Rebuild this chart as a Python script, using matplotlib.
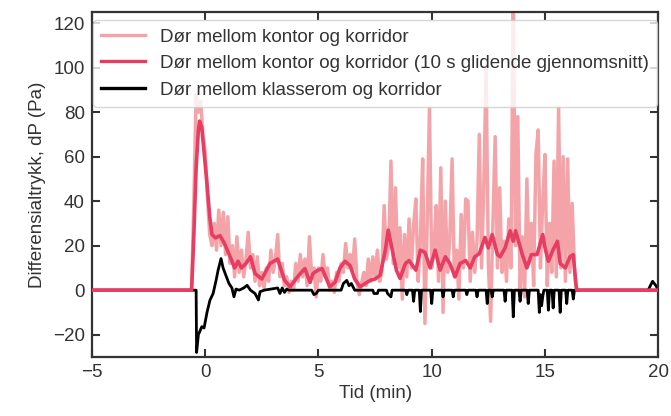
import numpy as np
import matplotlib.pyplot as plt

plt.rcParams['font.family'] = ['Liberation Sans', 'DejaVu Sans']

# raatrykk, dor kontor/korridor, en verdi per 0.1 min fra -0.6 min
raw_start = -0.6
raw = [0, 40, 88, 80, 85, 70,
       62, 42, 25, 20, 30, 18, 36, 20, 35, 16,
       33, 12, 20, 6, 24, 8, 18, 6, 14, 26,
       10, 16, 4, 15, 2, 8, 1, 10, 4, 18,
       8, 14, 25, 6, 12, 2, 6, -1, 4, 0,
       12, 4, 16, 6, 14, 2, 24, 6, 10, -3,
       10, 4, 16, 6, 10, 0, 4, -1, 8, 4,
       12, 8, 21, 10, 16, 8, 23, 4, -2, 3,
       8, 2, 14, 4, 15, 6, 18, 4, 8, 38,
       14, 20, 58, 12, 46, 10, 28, -4, 25, 6,
       32, 10, 29, 41, 4, 22, 59, -15, 30, 82,
       10, 20, 38, 4, 55, -10, 40, 8, 24, 59,
       6, 18, -4, 34, 10, 41, 40, 4, 26, 8,
       22, 70, 10, 47, 100, 12, -14, 30, 69, 10,
       46, 8, 22, 4, 32, 10, 135, 20, 78, 0,
       24, -3, 50, 12, 30, 2, 61, 72, 10, 40,
       61, 2, 30, 8, 58, 6, 82, 10, 60, 4,
       59, 8, 39, 10, 0]

# 10 s glidende gjennomsnitt
t_avg = [-5, -0.6, -0.5, -0.4, -0.3, -0.25, -0.15, -0.05, 0.07, 0.2, 0.3, 0.45,
         0.65, 0.85, 1.1, 1.3, 1.45, 1.6, 1.8, 2.0, 2.2, 2.5, 2.86, 3.2, 3.5,
         3.75, 4.0, 4.2, 4.4, 4.63, 4.76, 4.98, 5.16, 5.38, 5.5, 5.73, 5.95,
         6.17, 6.4, 6.6, 6.84, 7.06, 7.28, 7.5, 7.72, 7.95, 8.08, 8.26, 8.44,
         8.6, 8.84, 9.0, 9.3, 9.5, 9.7, 9.93, 10.15, 10.37, 10.6, 10.8, 11.03,
         11.25, 11.5, 11.7, 11.9, 12.1, 12.35, 12.5, 12.67, 12.9, 13.02, 13.24,
         13.46, 13.6, 13.7, 14.0, 14.2, 14.4, 14.65, 14.9, 15.0, 15.15, 15.35,
         15.55, 15.67, 15.9, 16.1, 16.25, 16.35, 16.4, 20]
avg = [0, 0, 25, 55, 72, 76, 73, 62, 49, 33, 25, 23.5,
       24.5, 21, 15, 10, 13, 10, 12, 15, 7.5, 5, 12, 14, 4.5,
       1.5, 5, 7.5, 9.7, 3.5, 7.5, 9, 9.7, 4.4, 1.5, 3.5, 10,
       13, 11, 5, 1.5, 3, 4.4, 5, 6.7, 17.8, 27, 18, 9,
       5.3, 12, 13.3, 9, 18, 17, 10, 18, 9, 15, 12, 6,
       12, 13.3, 10, 15, 16.4, 23.7, 19, 25, 16, 15, 19,
       26.7, 22, 26.7, 16, 10, 16, 16, 25, 19, 13, 18,
       22, 12, 10, 15, 16, 4, 0, 0]

# dor klasserom/korridor
t_kl = [-5, -0.4, -0.38, -0.3, -0.15, -0.05, 0.08, 0.21, 0.35, 0.48, 0.57, 0.7,
        0.79, 0.9, 1.05, 1.18, 1.27, 1.36, 1.5, 1.7, 1.85, 2.0, 2.2, 2.35, 2.42,
        2.6, 3.2, 3.3, 3.4, 3.5, 3.6, 3.7, 4.7, 4.8, 4.9, 5.0, 6.0, 6.1, 6.25,
        6.35, 6.45, 6.6, 7.4, 7.45, 7.6, 7.65, 8.0, 8.05, 8.2, 8.25, 8.85, 8.9,
        8.95, 9.15, 9.2, 9.25, 9.45, 9.5, 9.55, 9.95, 10.0, 10.05, 10.45, 10.5,
        10.55, 10.9, 10.95, 11.0, 11.5, 11.55, 11.6, 11.95, 12.0, 12.05, 12.4,
        12.45, 12.5, 12.62, 12.67, 12.72, 13.19, 13.24, 13.29, 13.55, 13.6,
        13.65, 13.85, 13.9, 13.95, 14.21, 14.26, 14.31, 14.7, 14.75, 14.8,
        14.85, 14.9, 14.95, 15.1, 15.15, 15.2, 15.31, 15.36, 15.41, 15.62,
        15.67, 15.72, 15.91, 15.96, 16.01, 16.2, 16.25, 16.3, 19.55, 19.75,
        19.9, 20]
klasse = [0, 0, -28, -20, -16.4, -17, -10, -4.5, -1.5, 4.4, 9, 14.2,
          10, 7, 3, 1, -3, 0.5, 0, 1, 2.2, 0, -1.5, -4.4, -0.7,
          0, 1, -1.5, 1, -1, 0.5, 0, 0, -2, -1.5, 0, 0, 3, 4.4,
          2, 3, 0, 0, -1.5, -1.5, 0, 0, -1.5, -3, 0, 0, -2,
          0, 0, -5, 0, 0, -9.6, 0, 0, -6, 0, 0, -3,
          0, 0, -3, 0, 0, -2, 0, 0, -3, 0, 0,
          -6, 0, 0, -3, 0, 0, -5, 0, 0, -12,
          0, 0, -5, 0, 0, -6, 0, 0, -10, -2,
          -7, -3, 0, 0, -9, 0, 0, -8, 0, 0,
          -10, 0, 0, -6, 0, 0, -4, 0, 0, 4,
          2, 0]

labels = ['Dør mellom kontor og korridor',
          'Dør mellom kontor og korridor (10 s glidende gjennomsnitt)',
          'Dør mellom klasserom og korridor']

t_raw = np.round(raw_start + 0.1 * np.arange(len(raw)), 2)
t_raw = np.concatenate([[-5], t_raw, [20]])
y_raw = np.concatenate([[0], raw, [0]])

fig = plt.figure(figsize=(6.71, 4.16), dpi=100)
ax = fig.add_axes([0.137, 0.142, 0.844, 0.829])

ax.plot(t_raw, y_raw, color='#f4a4a9', lw=2.5, label=labels[0], zorder=1)
ax.plot(t_avg, avg, color='#e83d63', lw=2.6, label=labels[1], zorder=3)
ax.plot(t_kl, klasse, color='black', lw=2.0, label=labels[2], zorder=2)

ax.set_xlim(-5, 20)
ax.set_ylim(-30, 125)
ax.set_xticks([-5, 0, 5, 10, 15, 20])
ax.set_yticks([-20, 0, 20, 40, 60, 80, 100, 120])
ax.tick_params(direction='in', length=6, width=1.5, top=True, right=True,
               labelsize=13.5, colors='#333333', pad=5)
for s in ax.spines.values():
    s.set_linewidth(1.6)
    s.set_color('#333333')

ax.set_xlabel('Tid (min)', fontsize=13.5, color='#333333', labelpad=3)
ax.set_ylabel('Differensialtrykk, dP (Pa)', fontsize=13.5, color='#333333', labelpad=5)

h, l = ax.get_legend_handles_labels()
leg = ax.legend(h, l, loc='upper left', bbox_to_anchor=(0.002, 0.977),
                borderaxespad=0, fontsize=13.5, handlelength=2.3,
                handletextpad=0.8, labelspacing=0.5, borderpad=0.45,
                framealpha=0.8)
for line in leg.get_lines():
    line.set_linewidth(2.4)
for txt in leg.get_texts():
    txt.set_color('#333333')

fig.savefig('out.png', dpi=100)
